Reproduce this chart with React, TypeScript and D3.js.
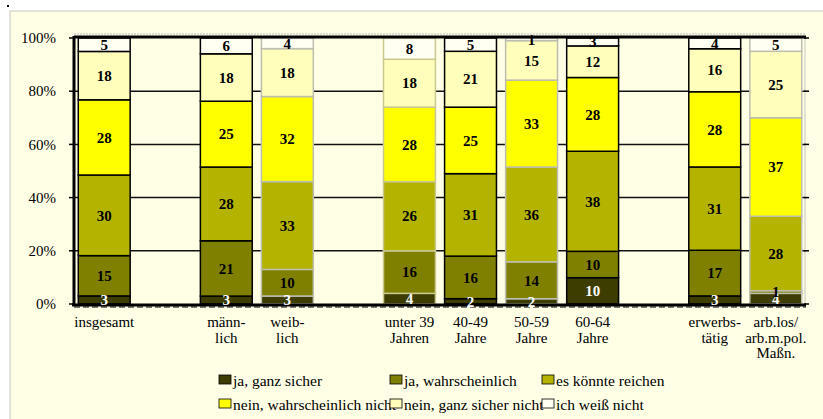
import React from "react";
import * as d3 from "d3";

const categories = ["insgesamt", "", "männlich", "weiblich", " ", "unter 39", "40-49", "50-59", "60-64", "  ", "erwerbstätig", "arb.los"];
const catLabels: string[][] = [["insgesamt"], [], ["männ-", "lich"], ["weib-", "lich"], [], ["unter 39", "Jahren"], ["40-49", "Jahre"], ["50-59", "Jahre"], ["60-64", "Jahre"], [], ["erwerbs-", "tätig"], ["arb.los/", "arb.m.pol.", "Maßn."]];
const seriesNames = ["ja, ganz sicher", "ja, wahrscheinlich", "es könnte reichen", "nein, wahrscheinlich nicht", "nein, ganz sicher nicht", "ich weiß nicht"];
const jaGanzSicher = [3, null, 3, 3, null, 4, 2, 2, 10, null, 3, 4];
const jaWahrscheinlich = [15, null, 21, 10, null, 16, 16, 14, 10, null, 17, 1];
const esKoennteReichen = [30, null, 28, 33, null, 26, 31, 36, 38, null, 31, 28];
const neinWahrscheinlichNicht = [28, null, 25, 32, null, 28, 25, 33, 28, null, 28, 37];
const neinGanzSicherNicht = [18, null, 18, 18, null, 18, 21, 15, 12, null, 16, 25];
const ichWeissNicht = [5, null, 6, 4, null, 8, 5, 1, 3, null, 4, 5];
const yTicks = [0, 20, 40, 60, 80, 100];

const series = [jaGanzSicher, jaWahrscheinlich, esKoennteReichen, neinWahrscheinlichNicht, neinGanzSicherNicht, ichWeissNicht];
const colors = ["#3d3d00", "#808000", "#b3b300", "#ffff00", "#ffffbb", "#fffff2"];
const labelColors = ["#ffffff", "#000", "#000", "#000", "#000", "#000"];
const barStroke: Record<string, string> = { "weiblich": "#bdbdb0", "50-59": "#bdbdb0", "arb.los": "#bdbdb0", "unter 39": "#c8c890" };

const font = "Liberation Serif, Tinos, Times New Roman, DejaVu Serif, serif";

export default function App() {
  const W = 823, H = 419;
  const x = d3.scaleBand<string>().domain(categories).range([74, 806]).paddingInner(0.15).paddingOuter(0.07);
  const y = d3.scaleLinear().domain([0, 100]).range([304, 38]);

  const bars: React.ReactNode[] = [];
  const labels: React.ReactNode[] = [];
  categories.forEach((c, ci) => {
    const vals = series.map((s) => s[ci]);
    if (vals[0] == null) return;
    const total = d3.sum(vals as number[]);
    let cum = 0;
    const stroke = barStroke[c] || "#000";
    vals.forEach((v, si) => {
      const p0 = (cum / total) * 100;
      cum += v as number;
      const p1 = (cum / total) * 100;
      const x0 = x(c)!;
      bars.push(
        <rect key={`b${ci}-${si}`} x={x0} y={y(p1)} width={x.bandwidth()} height={y(p0) - y(p1)}
          fill={colors[si]} stroke={stroke} strokeWidth={1.5} />
      );
      labels.push(
        <text key={`l${ci}-${si}`} x={x0 + x.bandwidth() / 2} y={(y(p0) + y(p1)) / 2} dy="0.35em"
          textAnchor="middle" style={{ fontFamily: font }} fontWeight="bold" fontSize={15} fill={labelColors[si]}>{v}</text>
      );
    });
  });

  const legendCols = [219, 390, 542];
  const legendRows = [381, 405];

  return (
    <svg width={W} height={H} style={{ position: "absolute", left: 0, top: 0 }}>
      <rect x={0} y={0} width={W} height={H} fill="#fff" />
      <rect x={10} y={11} width={W} height={H} fill="#ffffe6" stroke="#c8c8c0" strokeWidth={1} />
      <rect x={7} y={5} width={2} height={2} fill="#000" />
      {yTicks.filter((t) => t > 0 && t < 100).map((t) => (
        <line key={`g${t}`} x1={74} x2={806} y1={y(t)} y2={y(t)} stroke="#111" strokeWidth={1.5} />
      ))}
      <line x1={74} x2={806} y1={34} y2={34} stroke="#bbb" strokeWidth={1} strokeDasharray="2,1" />
      <line x1={805} x2={805} y1={37} y2={304} stroke="#c8c8c0" strokeWidth={1} />
      {bars}
      <line x1={74} x2={806} y1={37} y2={37} stroke="#000" strokeWidth={3} />
      <line x1={74} x2={74} y1={36} y2={306} stroke="#000" strokeWidth={3} />
      <line x1={72} x2={806} y1={305} y2={305} stroke="#000" strokeWidth={3} />
      <line x1={74} x2={806} y1={307} y2={307} stroke="#000" strokeWidth={1} strokeDasharray="6,3" />
      {yTicks.map((t) => (
        <g key={`t${t}`}>
          <line x1={69} x2={74} y1={y(t)} y2={y(t)} stroke="#000" strokeWidth={1.5} />
          <line x1={804} x2={809} y1={y(t)} y2={y(t)} stroke="#000" strokeWidth={1.5} />
          <text x={56} y={y(t)} dy="0.35em" textAnchor="end" style={{ fontFamily: font }} fontSize={15}>{`${t}%`}</text>
        </g>
      ))}
      {labels}
      {categories.map((c, ci) => (
        <text key={`c${ci}`} x={x(c)! + x.bandwidth() / 2} y={327} textAnchor="middle" style={{ fontFamily: font }} fontSize={15}>
          {catLabels[ci].map((l, li) => (
            <tspan key={li} x={x(c)! + x.bandwidth() / 2} dy={li === 0 ? 0 : 15.5}>{l}</tspan>
          ))}
        </text>
      ))}
      {seriesNames.map((n, i) => {
        const lx = legendCols[i % 3];
        const ly = legendRows[Math.floor(i / 3)];
        return (
          <g key={`lg${i}`}>
            <rect x={lx} y={ly - 6} width={12} height={9} fill={colors[i]} stroke="#000" strokeWidth={0.8} />
            <text x={lx + 14} y={ly} dy="0.35em" style={{ fontFamily: font }} fontSize={15.5}>{n}</text>
          </g>
        );
      })}
    </svg>
  );
}
